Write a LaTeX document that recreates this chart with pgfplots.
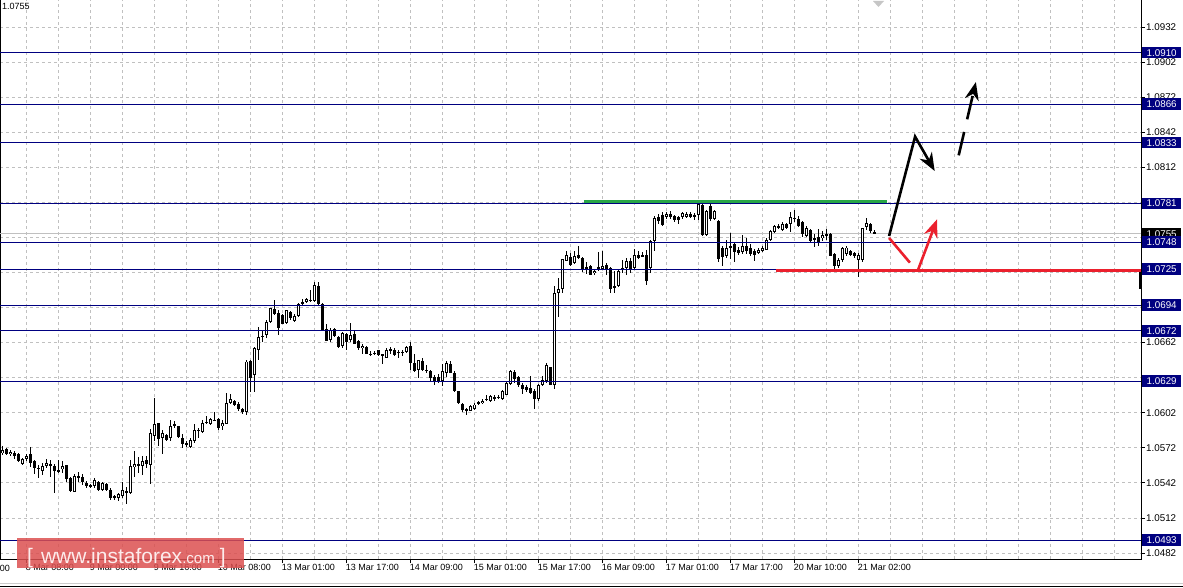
\documentclass[border=0pt]{standalone}
\usepackage{fontspec}
\setmainfont{Liberation Sans}
\usepackage{pgfplots}
\usepackage{pgfplotstable}
\pgfplotsset{compat=1.18}
\usetikzlibrary{arrows.meta}

\definecolor{lvl}{RGB}{0,0,128}
\definecolor{gridgray}{RGB}{192,192,192}
\definecolor{supgreen}{RGB}{40,165,70}
\definecolor{resred}{RGB}{235,32,45}
\definecolor{wmred}{RGB}{220,80,80}
\definecolor{wmtext}{RGB}{252,236,236}

% EURUSD H1 candles, 8 Mar - 21 Mar (open high low close)
\pgfplotstableread{
O H L C
1.05676 1.05733 1.05659 1.05699
1.05707 1.05721 1.05659 1.05670
1.05664 1.05699 1.05647 1.05684
1.05676 1.05693 1.05627 1.05647
1.05670 1.05676 1.05596 1.05607
1.05585 1.05636 1.05573 1.05622
1.05627 1.05664 1.05607 1.05650
1.05670 1.05727 1.05556 1.05590
1.05607 1.05613 1.05499 1.05551
1.05548 1.05579 1.05465 1.05545
1.05522 1.05593 1.05488 1.05565
1.05568 1.05622 1.05551 1.05590
1.05585 1.05619 1.05471 1.05562
1.05568 1.05579 1.05337 1.05522
1.05533 1.05613 1.05505 1.05516
1.05539 1.05607 1.05505 1.05562
1.05573 1.05573 1.05431 1.05454
1.05459 1.05471 1.05345 1.05351
1.05345 1.05494 1.05345 1.05476
1.05459 1.05511 1.05431 1.05476
1.05471 1.05499 1.05402 1.05431
1.05419 1.05437 1.05380 1.05397
1.05402 1.05408 1.05380 1.05385
1.05391 1.05465 1.05380 1.05442
1.05431 1.05437 1.05351 1.05362
1.05357 1.05431 1.05351 1.05419
1.05414 1.05419 1.05351 1.05362
1.05362 1.05374 1.05277 1.05294
1.05305 1.05317 1.05277 1.05288
1.05288 1.05334 1.05266 1.05323
1.05311 1.05431 1.05288 1.05357
1.05351 1.05385 1.05237 1.05334
1.05334 1.05619 1.05323 1.05562
1.05556 1.05693 1.05471 1.05579
1.05573 1.05642 1.05505 1.05576
1.05562 1.05647 1.05488 1.05607
1.05613 1.05647 1.05545 1.05579
1.05573 1.05878 1.05408 1.05847
1.05824 1.06149 1.05779 1.05921
1.05932 1.05932 1.05736 1.05796
1.05807 1.05870 1.05664 1.05847
1.05830 1.05841 1.05779 1.05790
1.05801 1.05955 1.05779 1.05904
1.05910 1.05950 1.05892 1.05921
1.05904 1.05910 1.05807 1.05813
1.05807 1.05836 1.05721 1.05750
1.05761 1.05779 1.05727 1.05744
1.05727 1.05807 1.05721 1.05790
1.05779 1.05921 1.05764 1.05870
1.05875 1.05887 1.05807 1.05864
1.05858 1.05961 1.05850 1.05932
1.05938 1.05989 1.05921 1.05940
1.05927 1.05978 1.05915 1.05967
1.05955 1.06024 1.05950 1.05957
1.05967 1.05978 1.05870 1.05887
1.05904 1.05961 1.05870 1.05932
1.05921 1.06189 1.05921 1.06103
1.06104 1.06179 1.06093 1.06139
1.06121 1.06133 1.06081 1.06087
1.06099 1.06116 1.06036 1.06053
1.06053 1.06064 1.06013 1.06025
1.06030 1.06469 1.06002 1.06458
1.06464 1.06475 1.06201 1.06321
1.06344 1.06583 1.06201 1.06572
1.06560 1.06754 1.06475 1.06669
1.06672 1.06726 1.06629 1.06675
1.06686 1.06817 1.06663 1.06794
1.06800 1.06920 1.06789 1.06914
1.06908 1.06982 1.06857 1.06863
1.06874 1.06897 1.06686 1.06743
1.06857 1.06868 1.06777 1.06783
1.06788 1.06902 1.06783 1.06897
1.06880 1.06891 1.06817 1.06834
1.06806 1.06862 1.06794 1.06845
1.06851 1.06959 1.06840 1.06948
1.06948 1.06994 1.06937 1.06965
1.06971 1.07005 1.06959 1.06994
1.06982 1.07068 1.06971 1.06985
1.06977 1.07136 1.06971 1.07113
1.07102 1.07136 1.06942 1.06948
1.06948 1.06959 1.06720 1.06731
1.06737 1.06777 1.06635 1.06635
1.06646 1.06743 1.06629 1.06731
1.06737 1.06748 1.06669 1.06675
1.06669 1.06675 1.06572 1.06583
1.06589 1.06714 1.06577 1.06703
1.06692 1.06703 1.06555 1.06623
1.06640 1.06788 1.06629 1.06686
1.06697 1.06726 1.06606 1.06612
1.06635 1.06646 1.06561 1.06577
1.06572 1.06612 1.06521 1.06595
1.06583 1.06589 1.06521 1.06526
1.06520 1.06549 1.06503 1.06521
1.06532 1.06549 1.06515 1.06531
1.06555 1.06561 1.06503 1.06515
1.06521 1.06526 1.06441 1.06503
1.06492 1.06572 1.06486 1.06560
1.06549 1.06583 1.06521 1.06566
1.06560 1.06572 1.06509 1.06515
1.06538 1.06555 1.06492 1.06537
1.06540 1.06560 1.06509 1.06538
1.06538 1.06595 1.06532 1.06583
1.06589 1.06629 1.06384 1.06447
1.06447 1.06521 1.06372 1.06378
1.06384 1.06475 1.06321 1.06469
1.06464 1.06492 1.06378 1.06384
1.06389 1.06429 1.06361 1.06378
1.06378 1.06389 1.06281 1.06315
1.06327 1.06344 1.06258 1.06293
1.06327 1.06349 1.06270 1.06293
1.06290 1.06440 1.06252 1.06380
1.06364 1.06460 1.06324 1.06443
1.06438 1.06460 1.06358 1.06364
1.06364 1.06375 1.06193 1.06204
1.06204 1.06210 1.06096 1.06101
1.06096 1.06107 1.06027 1.06044
1.06050 1.06061 1.05999 1.06039
1.06039 1.06090 1.06033 1.06079
1.06050 1.06101 1.06044 1.06090
1.06096 1.06124 1.06084 1.06113
1.06101 1.06135 1.06096 1.06124
1.06132 1.06175 1.06119 1.06136
1.06119 1.06175 1.06113 1.06164
1.06148 1.06175 1.06119 1.06147
1.06152 1.06170 1.06136 1.06153
1.06136 1.06215 1.06130 1.06204
1.06175 1.06289 1.06170 1.06278
1.06267 1.06386 1.06255 1.06375
1.06369 1.06381 1.06278 1.06307
1.06324 1.06335 1.06244 1.06261
1.06261 1.06278 1.06181 1.06221
1.06238 1.06261 1.06198 1.06215
1.06232 1.06335 1.06181 1.06193
1.06210 1.06221 1.06056 1.06141
1.06136 1.06267 1.06119 1.06261
1.06261 1.06335 1.06250 1.06301
1.06289 1.06443 1.06278 1.06426
1.06409 1.06415 1.06255 1.06261
1.06255 1.07105 1.06227 1.07042
1.07047 1.07173 1.06842 1.07076
1.07082 1.07338 1.07047 1.07332
1.07321 1.07401 1.07315 1.07367
1.07350 1.07390 1.07275 1.07287
1.07304 1.07401 1.07293 1.07361
1.07367 1.07452 1.07333 1.07344
1.07344 1.07350 1.07224 1.07247
1.07264 1.07310 1.07207 1.07247
1.07276 1.07281 1.07196 1.07201
1.07213 1.07253 1.07201 1.07236
1.07247 1.07395 1.07236 1.07264
1.07253 1.07407 1.07241 1.07276
1.07281 1.07304 1.07201 1.07247
1.07258 1.07264 1.07047 1.07082
1.07105 1.07230 1.07047 1.07088
1.07105 1.07253 1.07099 1.07236
1.07247 1.07327 1.07213 1.07258
1.07258 1.07344 1.07201 1.07321
1.07315 1.07344 1.07213 1.07253
1.07258 1.07424 1.07247 1.07367
1.07372 1.07401 1.07333 1.07344
1.07372 1.07395 1.07355 1.07361
1.07372 1.07412 1.07110 1.07150
1.07256 1.07495 1.07216 1.07490
1.07490 1.07700 1.07404 1.07689
1.07695 1.07718 1.07632 1.07661
1.07712 1.07735 1.07621 1.07632
1.07695 1.07740 1.07678 1.07723
1.07723 1.07746 1.07678 1.07700
1.07700 1.07712 1.07649 1.07666
1.07695 1.07706 1.07632 1.07672
1.07700 1.07740 1.07683 1.07729
1.07700 1.07740 1.07689 1.07723
1.07723 1.07735 1.07683 1.07695
1.07700 1.07729 1.07672 1.07712
1.07712 1.07820 1.07666 1.07803
1.07803 1.07814 1.07535 1.07541
1.07541 1.07757 1.07535 1.07746
1.07792 1.07803 1.07660 1.07683
1.07678 1.07752 1.07666 1.07746
1.07660 1.07666 1.07313 1.07336
1.07433 1.07444 1.07273 1.07353
1.07364 1.07495 1.07347 1.07427
1.07450 1.07558 1.07336 1.07433
1.07461 1.07478 1.07307 1.07398
1.07415 1.07438 1.07375 1.07387
1.07393 1.07541 1.07375 1.07450
1.07450 1.07518 1.07375 1.07404
1.07433 1.07461 1.07364 1.07375
1.07404 1.07421 1.07319 1.07370
1.07387 1.07433 1.07375 1.07415
1.07404 1.07450 1.07393 1.07433
1.07415 1.07518 1.07410 1.07501
1.07501 1.07586 1.07490 1.07575
1.07569 1.07626 1.07558 1.07615
1.07603 1.07638 1.07592 1.07620
1.07581 1.07649 1.07575 1.07638
1.07632 1.07643 1.07592 1.07603
1.07638 1.07735 1.07569 1.07695
1.07689 1.07757 1.07655 1.07678
1.07683 1.07700 1.07609 1.07620
1.07649 1.07660 1.07524 1.07546
1.07535 1.07620 1.07524 1.07598
1.07586 1.07592 1.07484 1.07490
1.07507 1.07552 1.07438 1.07507
1.07524 1.07592 1.07450 1.07478
1.07512 1.07575 1.07490 1.07541
1.07552 1.07592 1.07501 1.07535
1.07546 1.07558 1.07358 1.07364
1.07381 1.07387 1.07250 1.07273
1.07273 1.07347 1.07261 1.07330
1.07330 1.07438 1.07307 1.07427
1.07381 1.07450 1.07364 1.07433
1.07404 1.07415 1.07364 1.07370
1.07387 1.07398 1.07347 1.07358
1.07324 1.07387 1.07182 1.07370
1.07324 1.07603 1.07313 1.07598
1.07609 1.07689 1.07581 1.07643
1.07638 1.07643 1.07558 1.07575
1.07564 1.07581 1.07552 1.07552
}\candles

\begin{document}
\begin{tikzpicture}[x=1pt,y=1pt]
\useasboundingbox (0,0) rectangle (1183,587);
\fill[white] (0,0) rectangle (1183,587);
\begin{axis}[
  at={(0,24)}, anchor=south west,
  scale only axis, width=1141pt, height=562pt,
  xmin=-0.675, xmax=284.575, ymin=1.04769, ymax=1.09577,
  clip=false,
  axis line style={black, line width=0.8pt},
  tick align=outside,
  major tick length=4pt, minor tick length=0pt,
  tick style={black, line width=0.8pt},
  xtick pos=lower, ytick pos=upper,
  yticklabel pos=right,
  xtick={6,22,...,214},
  xticklabels={8 Mar 08:00, 9 Mar 00:00, 9 Mar 16:00, 10 Mar 08:00, 13 Mar 01:00, 13 Mar 17:00, 14 Mar 09:00, 15 Mar 01:00, 15 Mar 17:00, 16 Mar 09:00, 17 Mar 01:00, 17 Mar 17:00, 20 Mar 10:00, 21 Mar 02:00},
  minor xtick={14,30,46,62,78,94,110,126,142,158,174,190,206,222,230,238,246,254,262,270,278},
  ytick={1.0482,1.0512,1.0542,1.0572,1.0602,1.0632,1.0662,1.0692,1.0722,1.0752,1.0782,1.0812,1.0842,1.0872,1.0902,1.0932},
  % labels that sit fully under a price box are left empty
  yticklabels={1.0482,1.0512,1.0542,1.0572,1.0602,,1.0662,1.0692,1.0722,,,1.0812,1.0842,1.0872,1.0902,1.0932},
  grid=both,
  major grid style={gridgray, dash pattern=on 3pt off 3pt, line width=0.8pt},
  minor grid style={gridgray, dash pattern=on 3pt off 3pt, line width=0.8pt},
  xticklabel style={font=\fontsize{9}{10}\selectfont, anchor=north west, xshift=-2pt, inner sep=1pt},
  yticklabel style={font=\fontsize{9.8}{10}\selectfont, anchor=west, inner sep=1pt},
]
% bid line
\addplot[gridgray, line width=0.8pt] coordinates {(-0.675,1.0755) (284.575,1.0755)};
% wicks
\addplot[draw=none, mark=none, error bars/.cd, y dir=both, y explicit, error mark=none,
  error bar style={draw=black, line width=1pt}]
  table[x expr=\coordindex, y expr={(\thisrow{H}+\thisrow{L})/2},
    y error expr={(\thisrow{H}-\thisrow{L})/2}] {\candles};
% bodies
\addplot[draw=none, mark=none, error bars/.cd, y dir=both, y explicit, error mark=none,
  error bar style={draw=black, line width=3.2pt}]
  table[x expr=\coordindex, y expr={(\thisrow{O}+\thisrow{C})/2},
    y error expr={max(abs(\thisrow{C}-\thisrow{O})/2,0.00005)}] {\candles};
% hollow inside of rising candles
\addplot[draw=none, mark=none, error bars/.cd, y dir=both, y explicit, error mark=none,
  error bar style={draw=white, line width=1.3pt}]
  table[x expr=\coordindex,
    y expr={\thisrow{C}-\thisrow{O}>0.00018 ? (\thisrow{O}+\thisrow{C})/2 : nan},
    y error expr={(\thisrow{C}-\thisrow{O})/2-0.00008}] {\candles};
% levels
\pgfplotsinvokeforeach{1.0910,1.0866,1.0833,1.0781,1.0748,1.0725,1.0694,1.0672,1.0629,1.0493}{
  \addplot[lvl, line width=0.8pt] coordinates {(-0.675,#1) (284.575,#1)};
}
% support / resistance
\addplot[supgreen, line width=2.6pt] coordinates {(145.3,1.07825) (221.1,1.07825)};
\addplot[resred, line width=2.6pt] coordinates {(193.3,1.07235) (284.575,1.07235)};
% scenario arrows
\addplot[black, line width=2.6pt, -{Stealth[length=18pt,width=14pt]}]
  coordinates {(221.6,1.07532) (228.1,1.08382) (233.0,1.08088)};
\addplot[black, line width=2.6pt, dash pattern=on 24pt off 13pt, -{Stealth[length=18pt,width=14pt]}]
  coordinates {(239.0,1.08222) (243.3,1.08849)};
\addplot[resred, line width=2.6pt] coordinates {(221.6,1.07515) (226.8,1.07304)};
\addplot[resred, line width=2.6pt, -{Stealth[length=18pt,width=14pt]}]
  coordinates {(228.9,1.07247) (233.6,1.07675)};
% right-edge marker
\draw[black, line width=3pt] (axis cs:284.575,1.0722) -- (axis cs:284.575,1.0708);
% price labels
\node[fill=black, text=white, anchor=west, xshift=1pt, inner sep=0pt, minimum width=39pt,
  minimum height=11.5pt, font=\fontsize{9.8}{10}\selectfont] at (axis cs:284.575,1.0755) {1.0755};
\pgfplotsinvokeforeach{1.0910,1.0866,1.0833,1.0781,1.0748,1.0725,1.0694,1.0672,1.0629,1.0493}{
  \node[fill=lvl, text=white, anchor=west, xshift=1pt, inner sep=0pt, minimum width=39pt,
    minimum height=11.5pt, font=\fontsize{9.8}{10}\selectfont] at (axis cs:284.575,#1) {#1};
}
\node[anchor=north west, xshift=-2pt, yshift=-5pt, inner sep=1pt, font=\fontsize{9}{10}\selectfont]
  at (axis cs:-10,1.04769) {7 Mar 16:00};
\end{axis}
\node[anchor=north west, inner sep=0pt, font=\fontsize{9}{10}\selectfont] at (2,584) {1.0755};
\fill[gray!45] (873,586) -- (884,586) -- (878.5,580) -- cycle;
\fill[wmred, fill opacity=0.85] (17,19) rectangle (244,49);
\node[anchor=base west, inner sep=0pt, text=wmtext, font=\fontsize{21}{21}\selectfont]
  at (27,24) {[\hspace{8pt}www.instaforex{\fontsize{15}{15}\selectfont.com}\hspace{5pt}]};
\draw[gray!40, line width=1pt] (0,4) -- (1183,4);
\draw[black, line width=1pt] (0,1) -- (1183,1);
\end{tikzpicture}
\end{document}
